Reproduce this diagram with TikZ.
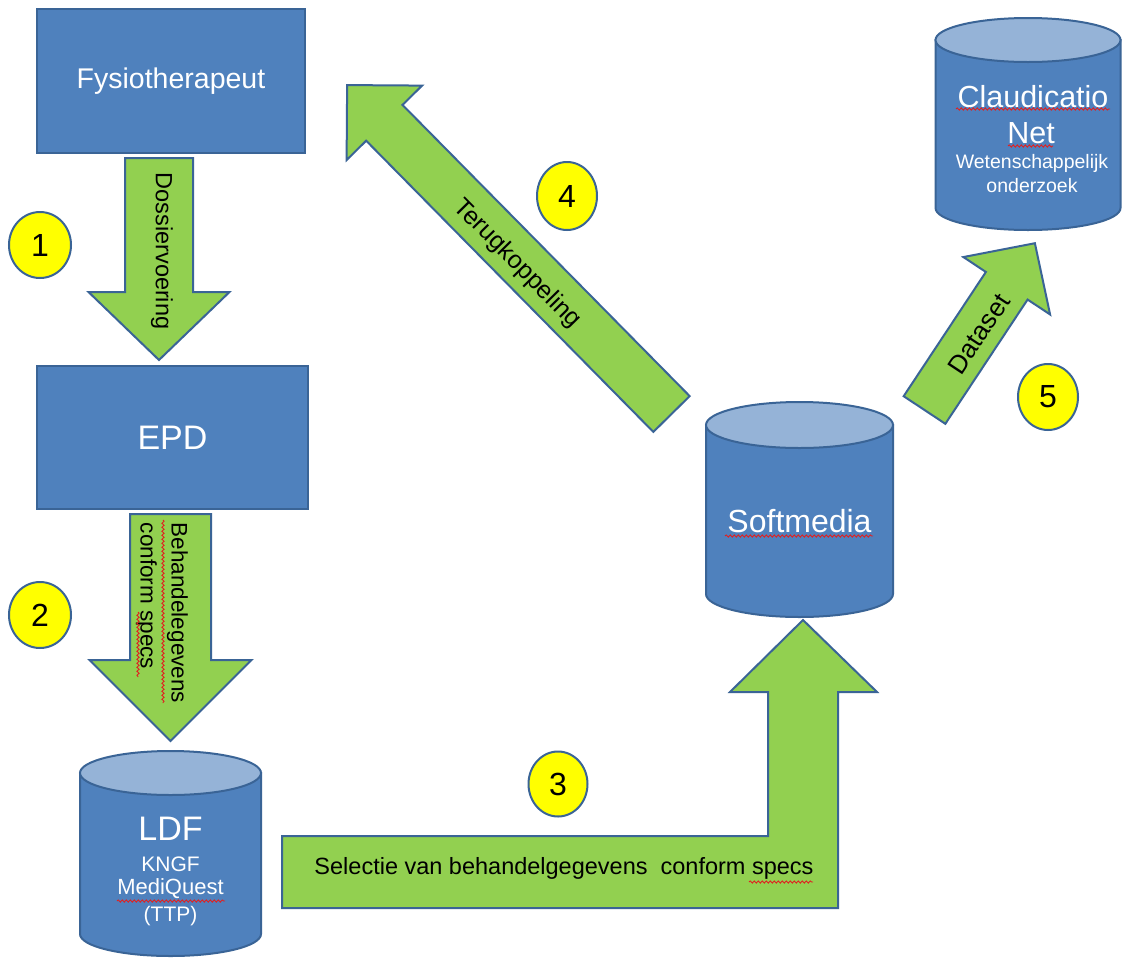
\documentclass[tikz,border=0pt]{standalone}
\usepackage{fontspec}
\setmainfont{Liberation Sans}
\usetikzlibrary{shapes.geometric,decorations.pathmorphing}
\definecolor{bluefill}{HTML}{4F81BD}
\definecolor{blueline}{HTML}{3A6496}
\definecolor{bluetop}{HTML}{95B3D7}
\definecolor{greenfill}{HTML}{92D050}
\definecolor{yel}{HTML}{FFFF00}
\definecolor{squig}{HTML}{E02020}
\newcommand\pxfont[1]{\fontsize{#1}{#1}\selectfont}
% base x, base y, angle, length, shaft half width, head half width, head length
\newcommand\blockarrow[7]{%
  \begin{scope}[shift={(#1,#2)}, rotate=#3]
    \draw[garrow] (0,-#5) -- ({#4-#7},-#5) -- ({#4-#7},-#6) -- (#4,0) -- ({#4-#7},#6) -- ({#4-#7},#5) -- (0,#5) -- cycle;
  \end{scope}}
% cx, top y, bottom y, rx, ry
\newcommand\dbcylinder[5]{%
  \draw[boxline] ({#1-#4},#2) -- ({#1-#4},#3) arc[start angle=180, end angle=360, x radius=#4pt, y radius=#5pt] -- ({#1+#4},#2) -- cycle;
  \draw[boxline, fill=bluetop] (#1,#2) ellipse [x radius=#4pt, y radius=#5pt];}
\tikzset{
  boxline/.style={draw=blueline, fill=bluefill, line width=2pt},
  box/.style={boxline, text=white, inner sep=0pt},
  garrow/.style={draw=blueline, fill=greenfill, line width=2pt, line join=miter},
  numc/.style={ellipse, draw=blueline, fill=yel, line width=2pt, minimum width=62pt, minimum height=66pt, inner sep=0pt, font=\pxfont{32}},
  wtext/.style={text=white, inner sep=0pt},
  atext/.style={text=black, inner sep=0pt},
  wavy/.style={draw=squig, line width=0.9pt, decorate, decoration={snake, amplitude=1.1pt, segment length=4pt}},
}
\begin{document}
\begin{tikzpicture}[x=1pt, y=-1pt]
\useasboundingbox (0,0) rectangle (1122,959);
\fill[white] (0,0) rectangle (1122,959);

% boxes
\node[box, minimum width=268pt, minimum height=144pt, font=\pxfont{28.5}] (fys) at (171,81) {Fysiotherapeut};
\node[box, minimum width=271pt, minimum height=143pt, font=\pxfont{34}] (epd) at (172.5,437.5) {EPD};

% cylinders
\dbcylinder{170.5}{773}{934}{90.5}{22}
\dbcylinder{799.5}{425}{594}{93.5}{23}
\dbcylinder{1028}{40}{208}{92.5}{22}

\node[wtext, font=\pxfont{34}] (ldf) at (170.5,829) {LDF};
\node[wtext, font=\pxfont{21}] (kngf) at (170.5,864) {KNGF};
\node[wtext, font=\pxfont{22}] (mq) at (170.5,889) {MediQuest};
\node[wtext, font=\pxfont{21}] (ttp) at (170.5,916) {(TTP)};
\node[wtext, font=\pxfont{32}] (soft) at (799.5,521) {Softmedia};
\node[wtext, font=\pxfont{30.5}] (clau) at (1033,97) {Claudicatio};
\node[wtext, font=\pxfont{30.5}] (net) at (1031,133) {Net};
\node[wtext, font=\pxfont{19.5}] (wet) at (1032,163) {Wetenschappelijk};
\node[wtext, font=\pxfont{19.5}] (ond) at (1032,186) {onderzoek};

% block arrows
\blockarrow{159}{158}{-90}{202}{34}{70.5}{68}
\blockarrow{170.5}{514}{-90}{227}{40.5}{81}{81}
\blockarrow{671.5}{414}{134.6}{462}{25.5}{53}{53}
\blockarrow{924.5}{410}{56.5}{200}{25}{52}{51}
\draw[garrow] (282,836) -- (768,836) -- (768,692) -- (730,692) -- (803,620) -- (877,692) -- (838,692) -- (838,908) -- (282,908) -- cycle;

% arrow labels
\node[atext, rotate=-90, font=\pxfont{23.5}] (dos) at (162,251) {Dossiervoering};
\node[atext, rotate=-90, align=left, font=\fontsize{22.5}{31}\selectfont] (beh) at (162,613) {Behandelegevens\\conform specs};
\node[atext, rotate=-45.4, font=\pxfont{25}] (terug) at (517,264) {Terugkoppeling};
\node[atext, rotate=56.5, font=\pxfont{26}] (data) at (979,334) {Dataset};
\node[atext, font=\pxfont{23.5}] (sel) at (564,868) {Selectie van behandelgegevens\ \ conform specs};

% number circles
\node[numc] (n1) at (40,245) {1};
\node[numc] (n2) at (40,615) {2};
\node[numc, minimum width=59pt, minimum height=65pt] (n3) at (558,784) {3};
\node[numc, minimum width=60pt, minimum height=68pt] (n4) at (567,196) {4};
\node[numc, minimum width=60pt, minimum height=66pt] (n5) at (1048,397) {5};

% spell-check squiggles
\draw[wavy] (117,901) -- (225,901);
\draw[wavy] (725,536) -- (873,536);
\draw[wavy] (956,109) -- (1110,109);
\draw[wavy] (1008,146) -- (1053,146);
\draw[wavy] (163,520) -- (163,703);
\draw[wavy] (138,612) -- (138,677);
\draw[wavy] (749,882) -- (813,882);
\end{tikzpicture}
\end{document}
